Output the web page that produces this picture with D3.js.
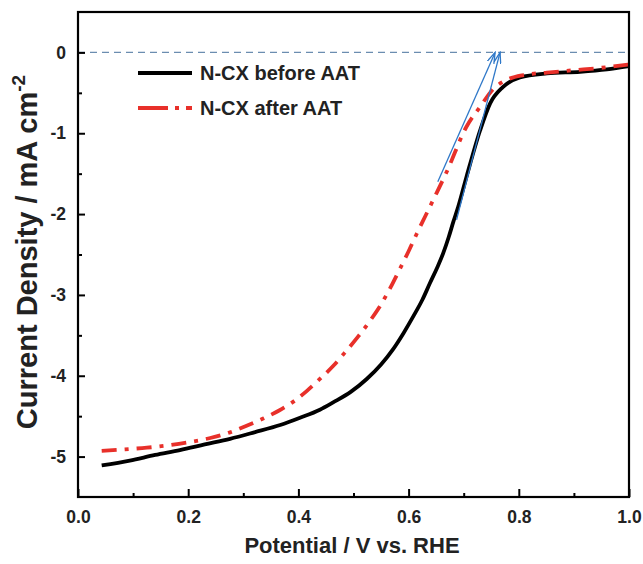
<!DOCTYPE html>
<html><head><meta charset="utf-8">
<script src="https://cdn.jsdelivr.net/npm/d3@7"></script>
<style>body{margin:0;background:#fff}svg{display:block}</style>
</head><body>
<svg id="c" width="643" height="564"></svg>
<script>
// ---- data ----
const potentialBefore = [0.043,0.094,0.14,0.185,0.23,0.276,0.32,0.367,0.403,0.439,0.463,0.495,0.524,0.55,0.572,0.591,0.609,0.625,0.639,0.652,0.663,0.673,0.681,0.69,0.705,0.73,0.748,0.771,0.802,0.851,0.911,0.96,1.0];
const currentBefore   = [-5.11,-5.05,-4.98,-4.92,-4.85,-4.78,-4.70,-4.61,-4.52,-4.42,-4.33,-4.20,-4.04,-3.86,-3.67,-3.47,-3.26,-3.06,-2.85,-2.66,-2.48,-2.28,-2.10,-1.91,-1.54,-0.96,-0.63,-0.43,-0.31,-0.26,-0.24,-0.21,-0.17];
const potentialAfter  = [0.043,0.085,0.125,0.165,0.203,0.24,0.276,0.306,0.336,0.365,0.391,0.415,0.439,0.463,0.486,0.509,0.53,0.548,0.567,0.584,0.6,0.615,0.63,0.645,0.669,0.705,0.73,0.754,0.778,0.808,0.851,0.9,0.95,1.0];
const currentAfter    = [-4.93,-4.91,-4.89,-4.86,-4.82,-4.77,-4.70,-4.62,-4.53,-4.43,-4.32,-4.19,-4.04,-3.88,-3.70,-3.51,-3.32,-3.14,-2.91,-2.68,-2.46,-2.24,-2.03,-1.82,-1.48,-0.92,-0.67,-0.45,-0.34,-0.28,-0.25,-0.22,-0.19,-0.15];
const seriesNames = ["N-CX before AAT","N-CX after AAT"];
const xTicks = [0,0.2,0.4,0.6,0.8,1.0];
const xMinorTicks = [0.1,0.3,0.5,0.7,0.9];
const yTicks = [0,-1,-2,-3,-4,-5];
const yMinorTicks = [-0.5,-1.5,-2.5,-3.5,-4.5];
const arrowStartX = [0.653,0.687];
const arrowStartY = [-1.60,-2.07];
const arrowEndX = [0.757,0.766];
const arrowEndY = [0.0,0.0];

// ---- layout ----
const L=78,R=629,T=12,B=497;
const svg=d3.select("#c");
const x=d3.scaleLinear().domain([0,1]).range([L,R]);
const y=d3.scaleLinear().domain([-5.5,0.5]).range([B,T]);
const font="'Liberation Sans',Arial,sans-serif";

// zero dashed line
svg.append("line").attr("x1",x(0)).attr("x2",x(1)).attr("y1",y(0)).attr("y2",y(0))
  .attr("stroke","#6b8db0").attr("stroke-width",1.3).attr("stroke-dasharray","7,5");

const line=d3.line().x(d=>x(d[0])).y(d=>y(d[1])).curve(d3.curveMonotoneX);
const before=potentialBefore.map((p,i)=>[p,currentBefore[i]]);
const after=potentialAfter.map((p,i)=>[p,currentAfter[i]]);

svg.append("path").datum(before).attr("d",line).attr("fill","none")
  .attr("stroke","#000").attr("stroke-width",3.8).attr("stroke-linejoin","round");
svg.append("path").datum(after).attr("d",line).attr("fill","none")
  .attr("stroke","#e8302a").attr("stroke-width",3.8).attr("stroke-dasharray","15,8,4,8");

// arrows
const defs=svg.append("defs");
defs.append("marker").attr("id","ah").attr("viewBox","0 0 12 8").attr("refX",11).attr("refY",4)
  .attr("markerWidth",12).attr("markerHeight",8).attr("markerUnits","userSpaceOnUse").attr("orient","auto")
  .append("path").attr("d","M0,0.5 L11,4 L0,7.5").attr("fill","none").attr("stroke","#2f78c8").attr("stroke-width",1.3);
arrowStartX.forEach((sx,i)=>{
  svg.append("line").attr("x1",x(sx)).attr("y1",y(arrowStartY[i])).attr("x2",x(arrowEndX[i])).attr("y2",y(arrowEndY[i]))
    .attr("stroke","#2f78c8").attr("stroke-width",1.3).attr("marker-end","url(#ah)");
});

// frame
svg.append("rect").attr("x",L).attr("y",T).attr("width",R-L).attr("height",B-T)
  .attr("fill","none").attr("stroke","#000").attr("stroke-width",2.2);

// axes
const xAxis=svg.append("g").attr("transform",`translate(0,${B})`)
  .call(d3.axisBottom(x).tickValues(xTicks).tickFormat(d3.format(".1f")).tickSizeInner(-8).tickSizeOuter(0).tickPadding(14));
xAxis.select(".domain").remove();
const xMin=svg.append("g").attr("transform",`translate(0,${B})`)
  .call(d3.axisBottom(x).tickValues(xMinorTicks).tickFormat("").tickSizeInner(-4).tickSizeOuter(0));
xMin.select(".domain").remove();
const yAxis=svg.append("g").attr("transform",`translate(${L},0)`)
  .call(d3.axisLeft(y).tickValues(yTicks).tickFormat(d3.format("d")).tickSizeInner(-7).tickSizeOuter(0).tickPadding(12));
yAxis.select(".domain").remove();
const yMin=svg.append("g").attr("transform",`translate(${L},0)`)
  .call(d3.axisLeft(y).tickValues(yMinorTicks).tickFormat("").tickSizeInner(-4).tickSizeOuter(0));
yMin.select(".domain").remove();
svg.selectAll(".tick line").attr("stroke","#000").attr("stroke-width",2);
svg.selectAll(".tick text").attr("font-family",font).attr("font-weight","bold").attr("font-size",17.5).attr("fill","#222");
yAxis.selectAll(".tick text").text(d=>d<0?"-"+Math.abs(d):d);

// titles
svg.append("text").attr("x",352).attr("y",553).attr("text-anchor","middle")
  .attr("font-family",font).attr("font-weight","bold").attr("font-size",22).attr("fill","#222")
  .text("Potential / V vs. RHE");
const yt=svg.append("text").attr("transform","translate(37,252) rotate(-90)").attr("text-anchor","middle")
  .attr("font-family",font).attr("font-weight","bold").attr("font-size",29).attr("fill","#222");
yt.append("tspan").text("Current Density / mA cm");
yt.append("tspan").attr("dy",-12).attr("font-size",19).text("-2");

// legend
const leg=[{name:seriesNames[0],stroke:"#000",dash:null,y:73},{name:seriesNames[1],stroke:"#e8302a",dash:"30,7,4,7",y:108}];
leg.forEach(d=>{
  svg.append("line").attr("x1",138).attr("x2",192).attr("y1",d.y).attr("y2",d.y)
    .attr("stroke",d.stroke).attr("stroke-width",4).attr("stroke-dasharray",d.dash);
  svg.append("text").attr("x",200).attr("y",d.y+7).attr("font-family",font).attr("font-weight","bold")
    .attr("font-size",20).attr("fill","#222").text(d.name);
});
</script>
</body></html>
